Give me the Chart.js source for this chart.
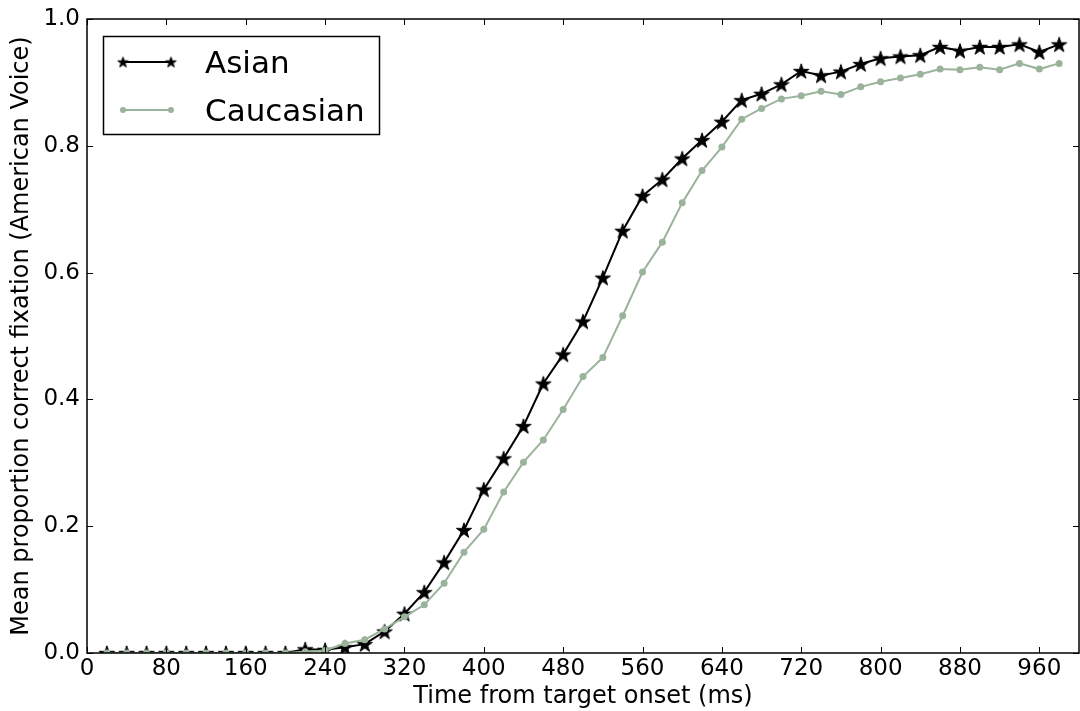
<!doctype html>
<html lang="en">
<head>
<meta charset="utf-8">
<title>Mean proportion correct fixation</title>
<style>
  body { margin: 0; background: #fff; }
  #wrap { width: 1080px; height: 711px; }
</style>
</head>
<body>
<div id="wrap"><canvas id="fixChart" width="1080" height="711"></canvas></div>
<script src="https://cdn.jsdelivr.net/npm/chart.js/dist/chart.umd.min.js"></script>
<script>
// time bins, ms from target onset
const timesMs = [20, 40, 60, 80, 100, 120, 140, 160, 180, 200,
                 220, 240, 260, 280, 300, 320, 340, 360, 380, 400,
                 420, 440, 460, 480, 500, 520, 540, 560, 580, 600,
                 620, 640, 660, 680, 700, 720, 740, 760, 780, 800,
                 820, 840, 860, 880, 900, 920, 940, 960, 980];

// mean proportion of correct fixations per bin
const asianVals = [0, 0, 0, 0, 0, 0, 0, 0, 0, 0,
                   0.006, 0.005, 0.009, 0.014, 0.034, 0.062, 0.096, 0.143, 0.194, 0.258,
                   0.307, 0.358, 0.425, 0.471, 0.523, 0.592, 0.666, 0.721, 0.747, 0.780,
                   0.809, 0.838, 0.872, 0.882, 0.897, 0.918, 0.911, 0.917, 0.929, 0.938,
                   0.941, 0.943, 0.956, 0.950, 0.956, 0.956, 0.960, 0.948, 0.960];
const caucasianVals = [0, 0, 0, 0, 0, 0, 0, 0, 0, 0,
                       0.002, 0.004, 0.015, 0.021, 0.038, 0.057, 0.076, 0.110, 0.159, 0.195,
                       0.254, 0.301, 0.336, 0.384, 0.436, 0.466, 0.532, 0.601, 0.648, 0.710,
                       0.761, 0.798, 0.842, 0.859, 0.874, 0.879, 0.886, 0.881, 0.893, 0.901,
                       0.907, 0.913, 0.921, 0.920, 0.924, 0.920, 0.930, 0.921, 0.930];

const seriesNames = ['Asian', 'Caucasian'];
const xTickVals = [0, 80, 160, 240, 320, 400, 480, 560, 640, 720, 800, 880, 960];
const yTickVals = [0, 0.2, 0.4, 0.6, 0.8, 1.0];
const xTitle = 'Time from target onset (ms)';
const yTitle = 'Mean proportion correct fixation (American Voice)';

const INK = '#000';
const SAGE = '#9bb39b';
const FONT = "'DejaVu Sans', sans-serif";

// filled five-point star, used as the point style
function makeStar(r) {
  const size = Math.ceil(r * 2 + 2);
  const c = document.createElement('canvas');
  c.width = size; c.height = size;
  const g = c.getContext('2d');
  const cx = size / 2, cy = size / 2 + r * 0.1, ri = r * 0.382;
  g.beginPath();
  for (let i = 0; i < 10; i++) {
    const rad = i % 2 ? ri : r;
    const a = -Math.PI / 2 + i * Math.PI / 5;
    g.lineTo(cx + rad * Math.cos(a), cy + rad * Math.sin(a));
  }
  g.closePath();
  g.fillStyle = INK;
  g.fill();
  g.lineWidth = 1;
  g.strokeStyle = INK;
  g.stroke();
  return c;
}
const bigStar = makeStar(8);
const smallStar = makeStar(5.5);

// box around the plot with inward ticks on all four sides
const framePlugin = {
  id: 'frame',
  afterDatasetsDraw(chart) {
    const { ctx, chartArea: a, scales: { x, y } } = chart;
    const seg = (x1, y1, x2, y2) => { ctx.beginPath(); ctx.moveTo(x1, y1); ctx.lineTo(x2, y2); ctx.stroke(); };
    ctx.save();
    ctx.strokeStyle = INK;
    ctx.lineWidth = 1;
    xTickVals.forEach(v => {
      const px = Math.round(x.getPixelForValue(v)) + 0.5;
      seg(px, a.bottom, px, a.bottom - 6);
      seg(px, a.top, px, a.top + 6);
    });
    yTickVals.forEach(v => {
      const py = Math.round(y.getPixelForValue(v)) + 0.5;
      seg(a.left, py, a.left + 6, py);
      seg(a.right, py, a.right - 6, py);
    });
    ctx.lineWidth = 1.5;
    ctx.strokeRect(a.left, a.top, a.right - a.left, a.bottom - a.top);
    ctx.restore();
  }
};

// legend: line with a marker at each end, boxed in the upper left
const legendPlugin = {
  id: 'boxLegend',
  afterDraw(chart) {
    const ctx = chart.ctx;
    ctx.save();
    ctx.strokeStyle = INK;
    ctx.lineWidth = 1.5;
    ctx.strokeRect(103.5, 36.5, 276, 98);
    const rows = [
      { name: seriesNames[0], color: INK, y: 62, star: true },
      { name: seriesNames[1], color: SAGE, y: 110, star: false }
    ];
    rows.forEach(r => {
      ctx.strokeStyle = r.color;
      ctx.lineWidth = 2;
      ctx.beginPath(); ctx.moveTo(123, r.y); ctx.lineTo(171, r.y); ctx.stroke();
      [123, 171].forEach(mx => {
        if (r.star) {
          ctx.drawImage(smallStar, mx - smallStar.width / 2, r.y - smallStar.height / 2);
        } else {
          ctx.fillStyle = r.color;
          ctx.beginPath(); ctx.arc(mx, r.y, 3, 0, Math.PI * 2); ctx.fill();
        }
      });
      ctx.fillStyle = INK;
      ctx.font = '31px ' + FONT;
      ctx.textBaseline = 'alphabetic';
      ctx.fillText(r.name, 205, r.y + 11);
    });
    ctx.restore();
  }
};

Chart.defaults.font.family = FONT;
Chart.defaults.color = INK;

new Chart(document.getElementById('fixChart'), {
  type: 'line',
  data: {
    labels: timesMs,
    datasets: [
      {
        label: seriesNames[1],
        data: timesMs.map((t, i) => ({ x: t, y: caucasianVals[i] })),
        borderColor: SAGE,
        backgroundColor: SAGE,
        borderWidth: 2,
        pointRadius: 3.5,
        pointBorderWidth: 0,
        pointBackgroundColor: SAGE,
        tension: 0,
        clip: 0,
        order: 0
      },
      {
        label: seriesNames[0],
        data: timesMs.map((t, i) => ({ x: t, y: asianVals[i] })),
        borderColor: INK,
        backgroundColor: INK,
        borderWidth: 2,
        pointStyle: bigStar,
        pointRadius: 8,
        tension: 0,
        clip: 0,
        order: 1
      }
    ]
  },
  options: {
    responsive: false,
    animation: false,
    devicePixelRatio: 1,
    layout: { autoPadding: false, padding: { top: 19, right: 1, left: 0, bottom: 0 } },
    plugins: { legend: { display: false }, tooltip: { enabled: false } },
    scales: {
      x: {
        type: 'linear',
        min: 0,
        max: 1000,
        grid: { display: false, drawTicks: false },
        border: { display: false },
        afterBuildTicks: s => { s.ticks = xTickVals.map(v => ({ value: v })); },
        afterFit: s => { s.height = 58; s.paddingLeft = 0; s.paddingRight = 0; },
        ticks: {
          autoSkip: false,
          maxRotation: 0,
          padding: 2,
          font: { size: 23 },
          callback: v => String(v)
        },
        title: {
          display: true,
          text: xTitle,
          font: { size: 24, lineHeight: 1 },
          padding: { top: 0, bottom: 2 }
        }
      },
      y: {
        min: 0,
        max: 1,
        grid: { display: false, drawTicks: false },
        border: { display: false },
        afterBuildTicks: s => { s.ticks = yTickVals.map(v => ({ value: v })); },
        afterFit: s => { s.width = 87; s.paddingTop = 0; s.paddingBottom = 0; },
        ticks: {
          padding: 7,
          font: { size: 23 },
          callback: v => v.toFixed(1)
        },
        title: {
          display: true,
          text: yTitle,
          font: { size: 24, lineHeight: 1 },
          padding: { top: 10, bottom: 0 }
        }
      }
    }
  },
  plugins: [framePlugin, legendPlugin]
});
</script>
</body>
</html>
